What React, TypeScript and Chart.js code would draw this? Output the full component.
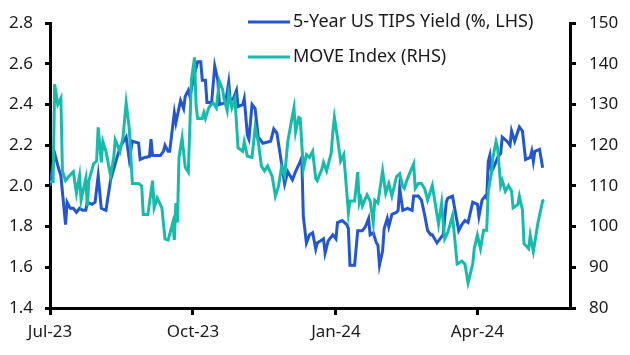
import React, { useEffect, useRef } from "react";
import { Chart, registerables } from "chart.js";

Chart.register(...registerables);

// Days counted from 1 Jul 2023
const tipsDays = [0, 3, 5, 7, 10, 11, 13, 15, 17, 19, 21, 23, 24, 27, 29, 31, 33, 36, 39, 42, 45, 49, 51, 53, 57, 58, 61, 64, 65, 66, 71, 73, 74, 76, 77, 80, 81, 84, 86, 87, 89, 90, 93, 95, 97, 98, 100, 101, 104, 106, 108, 109, 113, 115, 116, 118, 120, 121, 124, 125, 127, 128, 130, 132, 134, 137, 142, 144, 146, 149, 151, 153, 156, 158, 161, 162, 163, 165, 167, 169, 171, 172, 176, 177, 179, 182, 184, 185, 188, 191, 192, 193, 196, 198, 201, 203, 205, 206, 208, 210, 211, 212, 214, 215, 217, 218, 220, 223, 224, 225, 227, 230, 233, 234, 237, 239, 241, 243, 245, 246, 249, 253, 255, 256, 259, 263, 265, 267, 269, 272, 275, 276, 278, 280, 281, 282, 283, 284, 286, 288, 290, 291, 294, 296, 297, 299, 302, 304, 306, 309, 310, 311, 312, 315, 317];
const tipsValues = [2.0, 2.16, 2.1, 2.05, 1.81, 1.92, 1.89, 1.89, 1.87, 1.89, 1.88, 1.88, 1.92, 1.91, 1.92, 2.05, 1.89, 1.88, 2.03, 2.11, 2.19, 2.24, 2.13, 2.22, 2.21, 2.13, 2.14, 2.145, 2.23, 2.15, 2.15, 2.17, 2.2, 2.17, 2.17, 2.36, 2.31, 2.42, 2.38, 2.44, 2.47, 2.44, 2.55, 2.61, 2.61, 2.52, 2.52, 2.41, 2.41, 2.59, 2.52, 2.4, 2.41, 2.51, 2.42, 2.43, 2.47, 2.39, 2.4, 2.43, 2.25, 2.23, 2.4, 2.38, 2.24, 2.21, 2.22, 2.28, 2.26, 2.11, 2.01, 2.07, 2.03, 2.07, 2.12, 2.14, 1.85, 1.72, 1.76, 1.77, 1.69, 1.72, 1.74, 1.67, 1.73, 1.76, 1.74, 1.82, 1.83, 1.81, 1.79, 1.61, 1.61, 1.78, 1.78, 1.8, 1.84, 1.76, 1.77, 1.72, 1.71, 1.61, 1.68, 1.79, 1.84, 1.8, 1.86, 1.87, 1.88, 1.99, 1.88, 1.89, 1.88, 1.95, 1.95, 1.93, 1.86, 1.78, 1.76, 1.76, 1.72, 1.76, 1.92, 1.94, 1.95, 1.78, 1.81, 1.83, 1.82, 1.92, 1.91, 1.85, 1.93, 1.95, 1.94, 2.12, 2.15, 2.07, 2.1, 2.14, 2.16, 2.24, 2.22, 2.2, 2.27, 2.22, 2.29, 2.27, 2.13, 2.14, 2.17, 2.12, 2.17, 2.18, 2.09];

const moveDays = [0, 2, 3, 5, 7, 8, 10, 12, 15, 17, 19, 20, 23, 24, 25, 28, 30, 31, 33, 34, 36, 39, 41, 42, 45, 47, 49, 51, 53, 57, 59, 60, 63, 66, 67, 69, 72, 74, 76, 79, 80, 81, 82, 83, 85, 87, 89, 91, 93, 94, 95, 98, 99, 100, 102, 103, 105, 107, 109, 111, 112, 114, 115, 117, 119, 121, 124, 125, 127, 130, 132, 134, 136, 138, 140, 143, 145, 147, 149, 151, 153, 156, 157, 158, 160, 161, 163, 165, 167, 169, 171, 172, 175, 176, 178, 181, 182, 183, 185, 187, 189, 190, 192, 193, 196, 198, 199, 200, 201, 204, 206, 208, 209, 211, 214, 216, 218, 220, 223, 225, 227, 228, 230, 234, 235, 237, 239, 241, 243, 246, 248, 250, 252, 253, 254, 256, 259, 262, 265, 267, 269, 272, 273, 275, 277, 279, 281, 282, 284, 285, 287, 288, 290, 291, 293, 295, 297, 298, 301, 302, 304, 305, 308, 309, 311, 312, 314, 317, 318];
const moveValues = [111, 111, 135, 130, 131.6, 113.7, 111.3, 112.3, 113.5, 108.2, 112.5, 106.5, 111.8, 105, 111.3, 115.4, 116.1, 124.4, 115.8, 120.9, 118.5, 112.5, 117, 121.3, 118.5, 122, 130.4, 124.2, 110.6, 110.6, 110, 103, 103, 111.3, 104.6, 107, 104.6, 97, 96.7, 101, 96.7, 105.8, 101, 117, 121.8, 114.6, 113.4, 136, 141.6, 129.7, 126.6, 126.6, 128, 126.6, 129, 129.7, 130.4, 129.2, 135.7, 133.8, 131.4, 128.5, 132.8, 129.2, 131.4, 119.4, 118.5, 120.9, 117.3, 117, 124.4, 120.9, 114.9, 113.7, 114.9, 112.3, 107.5, 109.9, 114.6, 112.5, 120.9, 127.3, 129.2, 123.2, 126.8, 126.6, 114.2, 117.7, 117, 118.5, 111.8, 111.3, 114.2, 115.8, 113.7, 118.2, 123.2, 126.8, 121.8, 116.1, 117.7, 113, 103.4, 106.3, 106.3, 113.4, 105.8, 107, 105.1, 107.8, 106.3, 101, 106.5, 105.8, 113.7, 108.2, 110.6, 107.5, 112.3, 113, 109.9, 109.4, 111.8, 115.4, 109.4, 110.6, 110.6, 109.4, 106.5, 110.1, 105.4, 100.6, 105.8, 101, 97, 98.6, 102.7, 90.8, 91.5, 90.8, 86.2, 90.8, 94.6, 97.9, 94.6, 99.1, 99.1, 108.7, 113, 117, 120.9, 119.4, 110.1, 111.3, 108.7, 110.1, 108.7, 104.6, 105.4, 107.5, 104.1, 95.8, 94.6, 97.9, 93.9, 96.2, 101, 106.3, 106.5];

const xTickDays = [0, 92, 184, 275];
const xTickLabels = ["Jul-23", "Oct-23", "Jan-24", "Apr-24"];
const xMaxDay = 334.6;

const leftTicks = [1.4, 1.6, 1.8, 2.0, 2.2, 2.4, 2.6, 2.8];
const rightTicks = [80, 90, 100, 110, 120, 130, 140, 150];

const seriesNames = ["5-Year US TIPS Yield (%, LHS)", "MOVE Index (RHS)"];
const BLUE = "#2356cf";
const TEAL = "#17bba9";
const FONT = "'Noto Sans', sans-serif";
const TEXT = "#1a1a1a";

const legendPlugin = {
  id: "insetLegend",
  afterDraw(chart: any) {
    const ctx = chart.ctx;
    const items = [
      { label: seriesNames[0], color: BLUE, y: 22 },
      { label: seriesNames[1], color: TEAL, y: 57 },
    ];
    ctx.save();
    items.forEach((it) => {
      ctx.strokeStyle = it.color;
      ctx.lineWidth = 3;
      ctx.beginPath();
      ctx.moveTo(248, it.y);
      ctx.lineTo(290, it.y);
      ctx.stroke();
      ctx.fillStyle = TEXT;
      ctx.font = `18px ${FONT}`;
      ctx.textBaseline = "middle";
      ctx.textAlign = "left";
      ctx.fillText(it.label, 293, it.y);
    });
    ctx.restore();
  },
};

export default function App() {
  const ref = useRef<HTMLCanvasElement>(null);
  useEffect(() => {
    document.body.style.margin = "0";
    const tips = tipsDays.map((d, i) => ({ x: d, y: tipsValues[i] }));
    const move = moveDays.map((d, i) => ({ x: d, y: moveValues[i] }));
    const chart = new Chart(ref.current!, {
      type: "line",
      data: {
        datasets: [
          {
            label: seriesNames[1],
            data: move,
            borderColor: TEAL,
            borderWidth: 3,
            pointRadius: 0,
            tension: 0,
            yAxisID: "y1",
          },
          {
            label: seriesNames[0],
            data: tips,
            borderColor: BLUE,
            borderWidth: 3,
            pointRadius: 0,
            tension: 0,
            yAxisID: "y",
          },
        ],
      },
      options: {
        animation: false,
        responsive: false,
        maintainAspectRatio: false,
        layout: { padding: { top: 15, left: 0, right: 0, bottom: 0 } },
        plugins: { legend: { display: false }, tooltip: { enabled: false } },
        scales: {
          x: {
            type: "linear",
            min: 0,
            max: xMaxDay,
            afterBuildTicks: (s: any) => {
              s.ticks = xTickDays.map((v) => ({ value: v }));
            },
            afterFit: (s: any) => {
              s.height = 47;
            },
            ticks: {
              autoSkip: false,
              maxRotation: 0,
              padding: 7,
              color: TEXT,
              font: { family: FONT, size: 17 },
              callback: (v: any) => {
                const i = xTickDays.indexOf(Number(v));
                return i >= 0 ? xTickLabels[i] : "";
              },
            },
            grid: {
              drawOnChartArea: false,
              drawTicks: true,
              tickLength: 7,
              color: "#000",
              lineWidth: 3,
            },
            border: { color: "#000", width: 3 },
          },
          y: {
            position: "left",
            min: 1.4,
            max: 2.8,
            afterBuildTicks: (s: any) => {
              s.ticks = leftTicks.map((v) => ({ value: v }));
            },
            afterFit: (s: any) => {
              s.width = 50;
            },
            ticks: {
              padding: 12,
              color: TEXT,
              font: { family: FONT, size: 17 },
              callback: (v: any) => Number(v).toFixed(1),
            },
            grid: {
              drawOnChartArea: false,
              tickLength: 5,
              color: "#000",
              lineWidth: 3,
            },
            border: { color: "#000", width: 3 },
          },
          y1: {
            position: "right",
            min: 80,
            max: 150,
            afterBuildTicks: (s: any) => {
              s.ticks = rightTicks.map((v) => ({ value: v }));
            },
            afterFit: (s: any) => {
              s.width = 60;
            },
            ticks: {
              padding: 13,
              color: TEXT,
              font: { family: FONT, size: 17 },
              callback: (v: any) => String(v),
            },
            grid: {
              drawOnChartArea: false,
              tickLength: 6,
              color: "#000",
              lineWidth: 3,
            },
            border: { color: "#000", width: 3 },
          },
        },
      },
      plugins: [legendPlugin],
    });
    return () => chart.destroy();
  }, []);
  return (
    <div style={{ position: "fixed", left: 0, top: 0, width: 630, height: 355, background: "#fff" }}>
      <canvas ref={ref} width={630} height={355} style={{ width: 630, height: 355 }} />
    </div>
  );
}
